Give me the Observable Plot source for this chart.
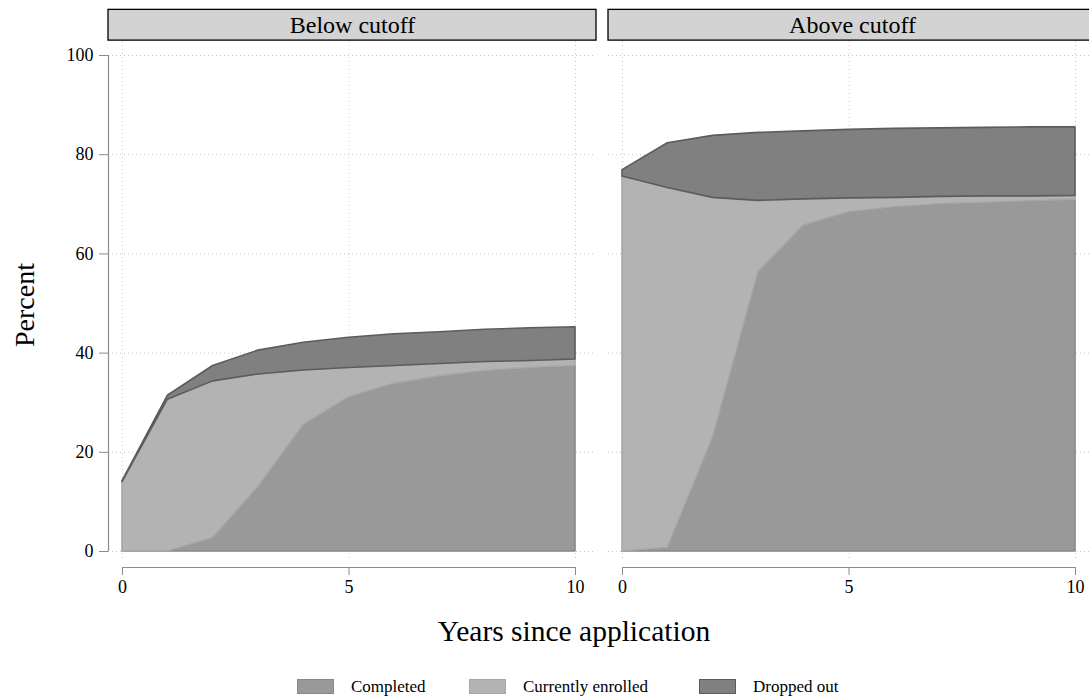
<!DOCTYPE html>
<html>
<head>
<meta charset="utf-8">
<script src="https://cdn.jsdelivr.net/npm/d3@7"></script>
<script src="https://cdn.jsdelivr.net/npm/@observablehq/plot@0.6"></script>
<style>
  html, body { margin: 0; padding: 0; overflow: hidden; background: #fff; width: 1089px; height: 698px; }
  #wrap { position: relative; width: 1096px; height: 698px; font-family: "Liberation Serif", serif; color: #000; }
  #chart { position: absolute; left: 0; top: 0; width: 1096px; }
  .lab { position: absolute; white-space: nowrap; line-height: 1; }
  #xtitle { font-size: 29.5px; left: 574px; top: 617px; transform: translateX(-50%); }
  #ytitle { font-size: 28px; left: 25px; top: 305px; transform: translate(-50%, -50%) rotate(-90deg); }
  .sw { position: absolute; top: 679px; width: 35px; height: 13px; border: 1px solid; }
  .lt { position: absolute; top: 678px; font-size: 17px; line-height: 17px; white-space: nowrap; }
</style>
</head>
<body>
<div id="wrap">
  <div id="chart"></div>
  <div id="xtitle" class="lab">Years since application</div>
  <div id="ytitle" class="lab">Percent</div>
  <div id="legend"></div>
</div>
<script>
// ---- data ----
const years = [0, 1, 2, 3, 4, 5, 6, 7, 8, 9, 10];
const panels = ["Below cutoff", "Above cutoff"];
const statuses = ["Completed", "Currently enrolled", "Dropped out"];

const belowCompleted = [0, 0, 2.7, 13.0, 25.5, 31.1, 33.8, 35.3, 36.4, 37.0, 37.4];
const belowEnrolled  = [14.0, 30.6, 31.6, 22.7, 11.0, 5.9, 3.6, 2.5, 1.8, 1.4, 1.3];
const belowDropped   = [0.2, 0.8, 3.1, 4.8, 5.6, 6.1, 6.4, 6.4, 6.5, 6.6, 6.5];

const aboveCompleted = [0, 0.7, 23.0, 56.3, 65.7, 68.4, 69.4, 70.0, 70.3, 70.6, 70.9];
const aboveEnrolled  = [75.6, 72.6, 48.3, 14.4, 5.3, 2.8, 1.9, 1.5, 1.3, 1.0, 0.8];
const aboveDropped   = [1.3, 9.0, 12.5, 13.7, 13.7, 13.8, 13.9, 13.8, 13.8, 13.9, 13.8];

const yTicks = [0, 20, 40, 60, 80, 100];
const xTicks = [0, 5, 10];

const fillOf   = {"Completed": "#999999", "Currently enrolled": "#b3b3b3", "Dropped out": "#808080"};
const strokeOf = {"Completed": "#888888", "Currently enrolled": "#a6a6a6", "Dropped out": "#5c5c5c"};

// ---- tidy table ----
const series = {
  "Below cutoff": [belowCompleted, belowEnrolled, belowDropped],
  "Above cutoff": [aboveCompleted, aboveEnrolled, aboveDropped]
};
const rows = [];
for (const p of panels) {
  statuses.forEach((s, si) => {
    years.forEach((yr, i) => rows.push({panel: p, status: s, year: yr, value: series[p][si][i]}));
  });
}

const axisGray = "#8c8c8c";
const gridGray = "#c8c8c8";

const chart = Plot.plot({
  width: 1096,
  height: 650,
  marginLeft: 108,
  marginRight: 0,
  marginTop: 41,
  marginBottom: 83,
  style: {fontFamily: "'Liberation Serif', serif", fontSize: "18px", background: "white", color: "black"},
  fx: {domain: panels, paddingInner: 0.024, paddingOuter: 0, axis: null, label: null, round: false},
  x: {domain: [0, 10], insetLeft: 14, insetRight: 21, axis: null},
  y: {domain: [0, 100], insetTop: 14, insetBottom: 16, axis: null},
  color: {type: "identity"},
  marks: [
    Plot.gridY({ticks: yTicks, stroke: gridGray, strokeOpacity: 1, strokeDasharray: "1,3"}),
    Plot.gridX({ticks: xTicks, stroke: gridGray, strokeOpacity: 1, strokeDasharray: "1,3", insetBottom: 6}),
    Plot.areaY(rows, {
      fx: "panel", x: "year", y: "value", z: "status",
      fill: d => fillOf[d.status], stroke: d => strokeOf[d.status], strokeWidth: 1.6
    }),
    // y axis (left panel only)
    Plot.axisY({ticks: yTicks, tickSize: 9, tickPadding: 6, stroke: axisGray, fill: "black", fontSize: 18, label: null}),
    Plot.ruleX([0], {fx: () => panels[0], y1: 0, y2: 100, dx: -14, stroke: axisGray, strokeWidth: 1.2}),
    // x axis (both panels)
    Plot.axisX({ticks: xTicks, tickSize: 8, tickPadding: 5, stroke: axisGray, fill: "black", fontSize: 18, label: null}),
    Plot.ruleY(panels, {fx: d => d, y: 0, x1: 0, x2: 10, dy: 16, stroke: axisGray, strokeWidth: 1.2}),
    // facet strips
    Plot.rect(panels, {fx: d => d, y1: 103, y2: 109.2, fill: "#d3d3d3", stroke: "black", strokeWidth: 1.3}),
    Plot.text(panels, {fx: d => d, text: d => d, y: 106, fontSize: 24, fill: "black"})
  ]
});
document.getElementById("chart").appendChild(chart);

// ---- legend ----
const legend = document.getElementById("legend");
const legendX = [297, 469, 699];
statuses.forEach((s, i) => {
  const sw = document.createElement("div");
  sw.className = "sw";
  sw.style.left = legendX[i] + "px";
  sw.style.background = fillOf[s];
  sw.style.borderColor = strokeOf[s];
  legend.appendChild(sw);
  const t = document.createElement("div");
  t.className = "lt";
  t.style.left = (legendX[i] + 54) + "px";
  t.textContent = s;
  legend.appendChild(t);
});
</script>
</body>
</html>
